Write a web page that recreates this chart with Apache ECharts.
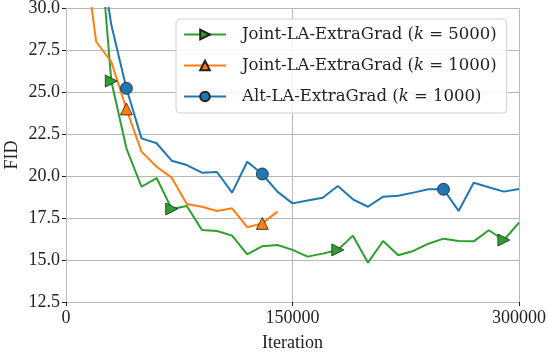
<!DOCTYPE html>
<html>
<head>
<meta charset="utf-8">
<script src="https://cdn.jsdelivr.net/npm/echarts@6/dist/echarts.min.js"></script>
<style>html,body{margin:0;padding:0;background:#fff}#c{width:548px;height:353px}</style>
</head>
<body>
<div id="c"></div>
<script>
const itersGreen = [20000,30000,40000,50000,60000,70000,80000,90000,100000,110000,120000,130000,140000,150000,160000,170000,180000,190000,200000,210000,220000,230000,240000,250000,260000,270000,280000,290000,300000];
const fidGreen = [36.6,25.65,21.65,19.36,19.88,18.04,18.21,16.79,16.73,16.45,15.34,15.82,15.89,15.60,15.20,15.38,15.60,16.45,14.84,16.13,15.28,15.54,15.97,16.27,16.13,16.11,16.77,16.19,17.22];
const markGreen = [30000,70000,180000,290000];

const itersOrange = [10000,20000,30000,40000,50000,60000,70000,80000,90000,100000,110000,120000,130000,140000];
const fidOrange = [34.7,27.99,26.80,23.99,21.45,20.55,19.90,18.33,18.17,17.92,18.08,16.95,17.18,17.88];
const markOrange = [40000,130000];

const itersBlue = [20000,30000,40000,50000,60000,70000,80000,90000,100000,110000,120000,130000,140000,150000,160000,170000,180000,190000,200000,210000,220000,230000,240000,250000,260000,270000,280000,290000,300000];
const fidBlue = [34.8,29.0,25.22,22.24,21.95,20.91,20.65,20.20,20.24,19.01,20.85,20.12,19.07,18.37,18.54,18.71,19.40,18.61,18.17,18.77,18.83,19.01,19.21,19.21,17.92,19.60,19.33,19.07,19.23];
const markBlue = [40000,130000,250000];

const seriesNames = ['Joint-LA-ExtraGrad ({i|k} = 5000)','Joint-LA-ExtraGrad ({i|k} = 1000)','Alt-LA-ExtraGrad ({i|k} = 1000)'];
const xTicks = [0,150000,300000];
const yTicks = [12.5,15.0,17.5,20.0,22.5,25.0,27.5,30.0];

const FONT = '"Liberation Serif", serif';
const LFONT = '"DejaVu Serif", serif';

function build(xs, ys, marks){
  return xs.map((x,i)=> marks.includes(x) ? {value:[x,ys[i]]} : {value:[x,ys[i]], symbol:'none'});
}
function mk(name, xs, ys, marks, color, symbol, rot){
  return {
    name, type:'line', data: build(xs,ys,marks),
    symbol, symbolSize: 12, symbolRotate: rot, showAllSymbol: true,
    lineStyle:{color, width:2},
    itemStyle:{color, borderColor:'#222', borderWidth:0.8, opacity:1},
    emphasis:{disabled:true}, animation:false, clip:true, z:2
  };
}

const chart = echarts.init(document.getElementById('c'));
chart.setOption({
  animation:false,
  grid:{left:66, top:8, width:453, height:294, containLabel:false, outerBoundsMode:'none'},
  legend:{
    orient:'vertical', left:176, top:19,
    padding:[7,10,8,7],
    itemWidth:42, itemHeight:12, itemGap:14,
    backgroundColor:'rgba(255,255,255,0.85)', borderColor:'#d0d0d0', borderWidth:1, borderRadius:4,
    textStyle:{fontFamily:LFONT, fontSize:16.5, color:'#222', padding:[0,0,0,11],
      rich:{i:{fontFamily:LFONT, fontSize:16.5, fontStyle:'italic', color:'#222'}}},
    data: seriesNames
  },
  xAxis:{
    type:'value', min:xTicks[0], max:xTicks[xTicks.length-1], interval:150000,
    name:'Iteration', nameLocation:'middle', nameGap:32, nameMoveOverlap:false,
    nameTextStyle:{fontFamily:FONT, fontSize:18, color:'#222'},
    axisLine:{show:true, lineStyle:{color:'#bcbcbc', width:1}},
    axisTick:{show:true, length:4, lineStyle:{color:'#222'}},
    axisLabel:{fontFamily:FONT, fontSize:18, color:'#222', margin:7, formatter:v=>String(v)},
    splitLine:{show:true, lineStyle:{color:'#b8b8b8', width:1}}
  },
  yAxis:{
    type:'value', min:yTicks[0], max:yTicks[yTicks.length-1], interval:2.5,
    name:'FID', nameLocation:'middle', nameGap:45, nameRotate:90, nameMoveOverlap:false,
    nameTextStyle:{fontFamily:FONT, fontSize:18, color:'#222'},
    axisLine:{show:true, lineStyle:{color:'#bcbcbc', width:1}},
    axisTick:{show:true, length:4, lineStyle:{color:'#222'}},
    axisLabel:{fontFamily:FONT, fontSize:18, color:'#222', margin:6, formatter:v=>v.toFixed(1)},
    splitLine:{show:true, lineStyle:{color:'#b8b8b8', width:1}}
  },
  series:[
    mk(seriesNames[0], itersGreen, fidGreen, markGreen, '#2ca02c', 'triangle', -90),
    mk(seriesNames[1], itersOrange, fidOrange, markOrange, '#ff7f0e', 'triangle', 0),
    mk(seriesNames[2], itersBlue, fidBlue, markBlue, '#1f77b4', 'circle', 0)
  ]
});
</script>
</body>
</html>
